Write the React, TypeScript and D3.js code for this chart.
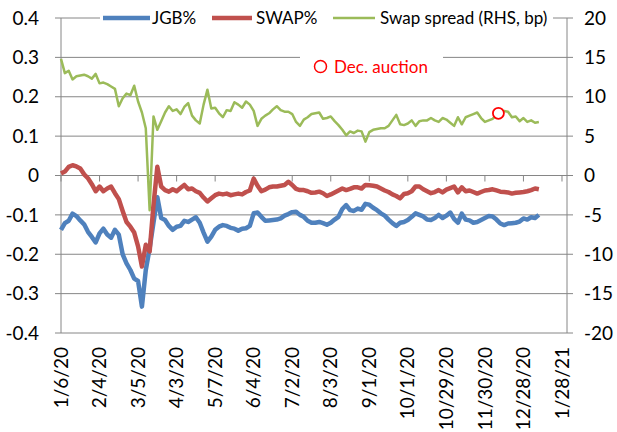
import * as d3 from "d3";

const W = 617;
const H = 432;

// trading-day index of each tick label (20 trading days apart)
const tickLabels = [
  "1/6/20", "2/4/20", "3/5/20", "4/3/20", "5/7/20", "6/4/20", "7/2/20",
  "8/3/20", "9/1/20", "10/1/20", "10/29/20", "11/30/20", "12/28/20", "1/28/21",
];
const tickStep = 20;
const sampleStep = 2; // series below are read every 2 trading days

const jgb = [
  -0.138, -0.121, -0.115, -0.097, -0.103, -0.114, -0.124, -0.143, -0.156, -0.17,
  -0.147, -0.135, -0.15, -0.158, -0.138, -0.15, -0.2, -0.223, -0.24, -0.262,
  -0.268, -0.333, -0.24, -0.185, -0.12, -0.055, -0.108, -0.113, -0.128, -0.138,
  -0.13, -0.128, -0.115, -0.118, -0.112, -0.106, -0.12, -0.145, -0.168, -0.155,
  -0.138, -0.13, -0.126, -0.128, -0.133, -0.135, -0.14, -0.135, -0.134, -0.128,
  -0.096, -0.094, -0.105, -0.115, -0.114, -0.113, -0.112, -0.109, -0.102, -0.098,
  -0.093, -0.092, -0.1, -0.105, -0.115, -0.12, -0.12, -0.118, -0.121, -0.125,
  -0.12, -0.112, -0.105, -0.085, -0.075, -0.088, -0.09, -0.084, -0.087, -0.072,
  -0.074, -0.082, -0.088, -0.096, -0.102, -0.112, -0.121, -0.128, -0.12, -0.118,
  -0.113, -0.105, -0.096, -0.1, -0.104, -0.112, -0.113, -0.108, -0.1, -0.108,
  -0.102, -0.094, -0.11, -0.12, -0.097, -0.112, -0.114, -0.12, -0.118, -0.113,
  -0.108, -0.103, -0.104, -0.112, -0.122, -0.126, -0.122, -0.121, -0.12, -0.117,
  -0.109, -0.112, -0.106, -0.108, -0.1,
];

const swap = [
  0.005, 0.01, 0.022, 0.026, 0.023, 0.018, 0.003, -0.007, -0.022, -0.04,
  -0.028, -0.04, -0.033, -0.028, -0.045, -0.06, -0.09, -0.118, -0.13, -0.145,
  -0.18, -0.231, -0.176, -0.193, -0.075, 0.022, -0.028, -0.037, -0.041, -0.035,
  -0.04, -0.032, -0.024, -0.035, -0.033, -0.04, -0.044, -0.056, -0.066, -0.058,
  -0.05, -0.046, -0.048, -0.046, -0.05, -0.048, -0.046, -0.048, -0.042, -0.038,
  -0.008, -0.026, -0.04, -0.036, -0.03, -0.028, -0.028, -0.026, -0.024, -0.016,
  -0.024, -0.034, -0.037, -0.037, -0.04, -0.044, -0.043, -0.041, -0.045, -0.052,
  -0.048, -0.043, -0.038, -0.033, -0.037, -0.034, -0.03, -0.03, -0.033, -0.024,
  -0.025, -0.026, -0.028, -0.033, -0.038, -0.042, -0.048, -0.052, -0.058, -0.047,
  -0.045, -0.04, -0.028, -0.028, -0.035, -0.04, -0.045, -0.042, -0.037, -0.043,
  -0.036, -0.032, -0.028, -0.043, -0.03, -0.04, -0.038, -0.042, -0.046, -0.042,
  -0.038, -0.037, -0.035, -0.038, -0.041, -0.042, -0.043, -0.046, -0.044, -0.043,
  -0.042, -0.04, -0.037, -0.033, -0.035,
];

// swap spread, bp (right axis)
const spread = [
  14.8, 13.0, 13.3, 12.2, 12.6, 12.7, 12.8, 12.6, 12.3, 12.9,
  11.7, 11.8, 11.6, 11.3, 11.0, 8.8, 9.8, 10.4, 10.2, 11.4,
  9.4, 8.0, 6.0, -4.4, 7.5, 5.8, 6.9, 8.0, 8.8, 8.2,
  8.4, 7.8, 8.7, 9.2, 7.6, 7.0, 6.6, 9.0, 10.9, 8.5,
  8.6, 7.9, 7.4, 8.3, 8.2, 9.3, 9.0, 8.6, 9.4, 9.0,
  8.2, 6.3, 7.2, 7.6, 7.9, 8.4, 8.8, 8.3, 8.1, 8.1,
  7.8, 6.8, 6.3, 7.1, 7.4, 7.8, 7.9, 8.0, 7.2, 7.3,
  7.5, 6.9, 6.4, 5.8, 5.1, 5.6, 5.4, 5.7, 5.6, 4.3,
  5.5, 5.8, 5.9, 6.0, 6.0, 6.3, 7.0, 7.7, 6.5, 6.4,
  6.6, 7.0, 6.3, 6.9, 7.0, 7.0, 7.3, 7.0, 6.8, 7.3,
  7.1, 6.7, 6.3, 7.4, 6.5, 7.4, 7.6, 7.8, 8.0, 7.3,
  6.8, 7.0, 7.2, 7.6, 7.9, 8.2, 8.1, 7.4, 7.5, 6.9,
  7.3, 6.8, 7.0, 6.7, 6.8,
];

// December auction marker (trading-day index, bp)
const auctionIdx = 227;
const auctionVal = 7.9;

const leftTicks = [0.4, 0.3, 0.2, 0.1, 0, -0.1, -0.2, -0.3, -0.4];
const leftLabels = ["0.4", "0.3", "0.2", "0.1", "0", "-0.1", "-0.2", "-0.3", "-0.4"];
const rightTicks = [20, 15, 10, 5, 0, -5, -10, -15, -20];

const BLUE = "#4f81bd";
const RED = "#c0504d";
const GREEN = "#9bbb59";
const GRID = "#868686";
const FONT = "Lato, 'Liberation Sans', sans-serif";

export default function App() {
  const m = { left: 61, right: 567, top: 18, bottom: 333 };
  const x = d3.scaleLinear().domain([0, 262.6]).range([m.left, m.right]);
  const yL = d3.scaleLinear().domain([-0.4, 0.4]).range([m.bottom, m.top]);
  const yR = d3.scaleLinear().domain([-20, 20]).range([m.bottom, m.top]);

  const lineL = d3
    .line<number>()
    .x((_, i) => x(i * sampleStep))
    .y((d) => yL(d));
  const lineR = d3
    .line<number>()
    .x((_, i) => x(i * sampleStep))
    .y((d) => yR(d));

  const y0 = yL(0);

  return (
    <svg
      width={W}
      height={H}
      style={{ position: "absolute", left: 0, top: 0, background: "#fff" }}
      fontFamily={FONT}
    >
      {/* gridlines + left ticks */}
      {leftTicks.map((t) => (
        <line
          key={"g" + t}
          x1={m.left - 6}
          x2={m.right + 6}
          y1={yL(t)}
          y2={yL(t)}
          stroke={GRID}
          strokeWidth={1}
        />
      ))}
      <line x1={m.left} x2={m.left} y1={m.top} y2={m.bottom} stroke={GRID} />
      <line x1={m.right} x2={m.right} y1={m.top} y2={m.bottom} stroke={GRID} />

      {/* category ticks on the zero line */}
      {tickLabels.map((_, i) => (
        <line
          key={"xt" + i}
          x1={x(i * tickStep)}
          x2={x(i * tickStep)}
          y1={y0}
          y2={y0 + 6}
          stroke={GRID}
        />
      ))}

      {leftTicks.map((t, i) => (
        <text
          key={"lt" + t}
          x={39}
          y={yL(t)}
          dy="0.35em"
          textAnchor="end"
          fontSize={19}
          fill="#000"
        >
          {leftLabels[i]}
        </text>
      ))}
      {rightTicks.map((t) => (
        <text
          key={"rt" + t}
          x={584}
          y={yR(t)}
          dy="0.35em"
          fontSize={19}
          fill="#000"
        >
          {String(t)}
        </text>
      ))}
      {tickLabels.map((s, i) => (
        <text
          key={"xl" + s}
          transform={`translate(${x(i * tickStep)},347) rotate(-90)`}
          dy="0.35em"
          textAnchor="end"
          fontSize={19}
          fill="#000"
        >
          {s}
        </text>
      ))}

      {/* series */}
      <path d={lineL(jgb) ?? ""} fill="none" stroke={BLUE} strokeWidth={4.5} strokeLinejoin="round" />
      <path d={lineL(swap) ?? ""} fill="none" stroke={RED} strokeWidth={4.5} strokeLinejoin="round" />
      <path d={lineR(spread) ?? ""} fill="none" stroke={GREEN} strokeWidth={2.5} strokeLinejoin="round" />
      <circle cx={x(auctionIdx)} cy={yR(auctionVal)} r={5.5} fill="#fff" stroke="#ff0000" strokeWidth={1.8} />

      {/* legend */}
      <rect x={100} y={6} width={453} height={26} fill="#fff" />
      <line x1={103} x2={150} y1={18} y2={18} stroke={BLUE} strokeWidth={4.5} />
      <text x={152} y={24} fontSize={17}>JGB%</text>
      <line x1={212} x2={252} y1={18} y2={18} stroke={RED} strokeWidth={4.5} />
      <text x={256} y={24} fontSize={17}>SWAP%</text>
      <line x1={333} x2={375} y1={18} y2={18} stroke={GREEN} strokeWidth={2.5} />
      <text x={380} y={24} fontSize={17}>Swap spread (RHS, bp)</text>

      <rect x={300} y={50} width={143} height={28} fill="#fff" />
      <circle cx={320.5} cy={66.5} r={6} fill="#fff" stroke="#ff0000" strokeWidth={1.5} />
      <text x={334} y={73} fontSize={17} fill="#ff0000">Dec. auction</text>
    </svg>
  );
}
